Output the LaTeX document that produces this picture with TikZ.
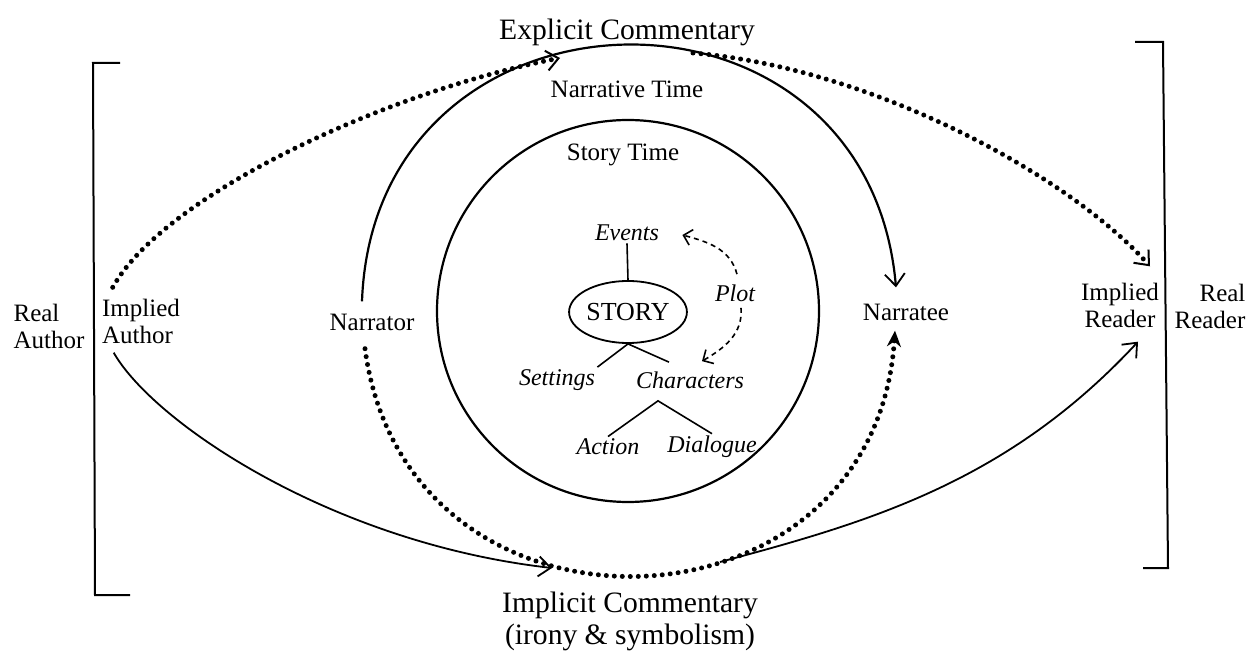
\documentclass[tikz,border=0pt]{standalone}
\usepackage{fontspec}
\setmainfont{Liberation Serif}
\usetikzlibrary{shapes.geometric,arrows.meta}
\begin{document}
\begin{tikzpicture}[x=0.5pt,y=0.5pt,
  lbl/.style={inner sep=1pt, align=center, font=\fontsize{12.5}{13.5}\selectfont},
  big/.style={inner sep=1pt, align=center, font=\fontsize{14.8}{16}\selectfont},
  itl/.style={inner sep=1pt, font=\fontsize{12}{13}\selectfont\itshape},
  arr/.style={line width=0.9pt, -{Straight Barb[length=6pt,width=10pt,line width=0.9pt]}},
  dots/.style={line width=2.5pt, line cap=round, dash pattern=on 0pt off 4pt},
  dotarr/.style={dots, -{Straight Barb[length=6pt,width=10pt,line width=1pt]}},
  plotarr/.style={line width=0.8pt, dash pattern=on 2.5pt off 2pt, -{Straight Barb[length=4pt,width=8pt,line width=0.8pt]}}]
\useasboundingbox (0,0) rectangle (1249,-652);
% labels
\node[big] (expl) at (627,-32) {Explicit Commentary};
\node[lbl] (narrtime) at (627,-89) {Narrative Time};
\node[lbl] (storytime) at (623,-155) {Story Time};
\node[itl] (events) at (627,-233) {Events};
\node[draw, ellipse, line width=0.9pt, minimum width=54pt, minimum height=31pt, inner sep=0pt, font=\fontsize{13}{14}\selectfont] (story) at (628,-312) {STORY};
\node[itl] (settings) at (557,-380) {Settings};
\node[itl] (characters) at (690,-380) {Characters};
\node[itl] (action) at (608,-447) {Action};
\node[itl] (dialogue) at (712,-447) {Dialogue};
\node[itl] (plot) at (735,-293) {Plot};
\node[lbl] (narrator) at (372,-322) {Narrator};
\node[lbl] (narratee) at (906,-312) {Narratee};
\node[lbl, align=left] (realauthor) at (49,-326) {Real\\Author};
\node[lbl, align=left] (iauthor) at (141,-321) {Implied\\Author};
\node[lbl] (ireader) at (1120,-305) {Implied\\Reader};
\node[lbl, align=right] (realreader) at (1210,-306) {Real\\Reader};
\node[big] (impl) at (630,-621) {Implicit Commentary\\(irony \& symbolism)};
\coordinate (ecin) at (560,-58);
\coordinate (ecout) at (693,-53);
\coordinate (icin) at (552,-568);
\coordinate (icout) at (720,-562);
% brackets
\draw[line width=1pt] (120,-63) -- (93,-63) -- (95,-595) -- (130,-595);
\draw[line width=1pt] (1135,-42) -- (1163,-42) -- (1168,-568) -- (1143,-568);
% story time
\draw[line width=1.1pt] (628,-311) circle[radius=95.5pt];
% narrative time
\draw[arr, line width=1.1pt] ([shift={(-10,10)}]narrator.north) .. controls +(12,333) and +(-29,332) .. ([shift={(-10,14)}]narratee.north);
\draw[dots, -{Stealth[length=8pt,width=7pt]}] ([shift={(-7,-16)}]narrator.south) .. controls +(42,-313) and +(-21,-315) .. ([shift={(-11,-8)}]narratee.south);
% commentary
\draw[dotarr] ([shift={(13,9)}]iauthor.north west) .. controls +(50,90) and +(-180,-35) .. (ecin);
\draw[dotarr] (ecout) .. controls +(180,-15) and +(-80,90) .. ([shift={(30,14)}]ireader.north);
\draw[arr] ([shift={(14,-7)}]iauthor.south west) .. controls +(40,-70) and +(-220,25) .. (icin);
\draw[arr] (icout) .. controls +(150,40) and +(-130,-140) .. ([shift={(18,-12)}]ireader.south);
% story tree
\draw[line width=0.8pt] (events.south) -- (story.north);
\draw[line width=0.8pt] (settings.north east) -- (story.south) -- ([shift={(-21,7)}]characters.north);
\draw[line width=0.8pt] (action.north) -- ([shift={(-32,-10)}]characters.south) -- (dialogue.north);
\draw[plotarr] ([shift={(2,8)}]plot.north) to[out=105, in=-15] ([shift={(21,-2)}]events.east);
\draw[plotarr] ([shift={(6,-4)}]plot.south) to[out=-85, in=30] ([shift={(12,8)}]characters.north);
\end{tikzpicture}
\end{document}
